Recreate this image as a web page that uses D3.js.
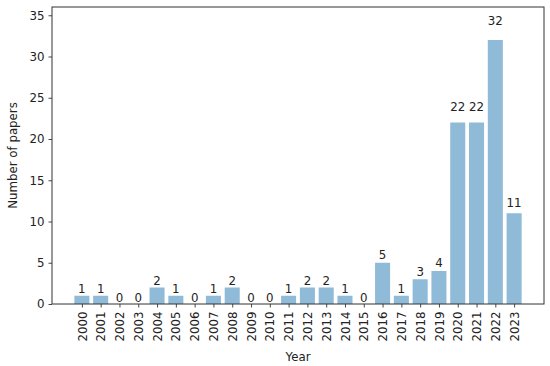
<!DOCTYPE html>
<html>
<head>
<script src="https://d3js.org/d3.v7.min.js"></script>
<style>
  body { margin: 0; background: #fff; }
  text { font-family: "DejaVu Sans", sans-serif; }
</style>
</head>
<body>
<div id="chart"></div>
<script>
// data
var years = ["2000","2001","2002","2003","2004","2005","2006","2007","2008","2009","2010","2011",
             "2012","2013","2014","2015","2016","2017","2018","2019","2020","2021","2022","2023"]
var papers = [1,1,0,0,2,1,0,1,2,0,0,1,2,2,1,0,5,1,3,4,22,22,32,11]
var yTicks = [0,5,10,15,20,25,30,35]

var W = 550, H = 366
var margin = { top: 7, right: 6, bottom: 62, left: 52 }
var width = W - margin.left - margin.right,
    height = H - margin.top - margin.bottom
var fs = "11.8px"

var svg = d3.select("#chart").append("svg")
    .attr("width", W).attr("height", H)
  .append("g")
    .attr("transform", "translate(" + margin.left + "," + margin.top + ")")

// matplotlib-like x: bar centres at index, 5% padding
var barW = 0.8
var lo = -barW / 2, hi = years.length - 1 + barW / 2
var pad = (hi - lo) * 0.05
var x = d3.scaleLinear().domain([lo - pad, hi + pad]).range([0, width])
var y = d3.scaleLinear().domain([0, 36]).range([height, 0])

// bars
svg.selectAll(".bar")
    .data(papers)
    .enter().append("rect")
    .attr("x", function (d, i) { return x(i - barW / 2) })
    .attr("width", x(barW) - x(0))
    .attr("y", function (d) { return y(d) })
    .attr("height", function (d) { return height - y(d) })
    .attr("fill", "#8fbbd9")

// value labels, placed at 1.05 * height like the original
svg.selectAll(".lbl")
    .data(papers)
    .enter().append("text")
    .attr("x", function (d, i) { return x(i) })
    .attr("y", function (d) { return y(d * 1.05) - 2 })
    .attr("text-anchor", "middle")
    .style("font-size", fs)
    .attr("fill", "#222")
    .text(function (d) { return d })

// axes
var xAxis = svg.append("g")
    .attr("transform", "translate(0," + height + ")")
    .call(d3.axisBottom(x).tickValues(d3.range(years.length)).tickFormat(function (i) { return years[i] }).tickSize(3.5).tickSizeOuter(0))
xAxis.selectAll("text")
    .attr("transform", "rotate(-90)")
    .attr("text-anchor", "end")
    .attr("x", -7.5).attr("y", 0).attr("dy", "0.35em")
    .style("font-size", fs).attr("fill", "#222")

var yAxis = svg.append("g")
    .call(d3.axisLeft(y).tickValues(yTicks).tickSize(3.5).tickSizeOuter(0).tickPadding(4))
yAxis.selectAll("text").style("font-size", fs).attr("fill", "#222")

svg.selectAll(".domain").remove()
svg.selectAll(".tick line").attr("stroke", "#333").attr("stroke-width", 0.9)

// frame
svg.append("rect")
    .attr("width", width).attr("height", height)
    .attr("fill", "none").attr("stroke", "#333").attr("stroke-width", 1)

// axis titles
svg.append("text")
    .attr("x", width / 2).attr("y", height + 57)
    .attr("text-anchor", "middle")
    .style("font-size", fs).attr("fill", "#222")
    .text("Year")

svg.append("text")
    .attr("transform", "rotate(-90)")
    .attr("x", -height / 2).attr("y", -39)
    .attr("dy", "0.35em")
    .attr("text-anchor", "middle")
    .style("font-size", fs).attr("fill", "#222")
    .text("Number of papers")
</script>
</body>
</html>
